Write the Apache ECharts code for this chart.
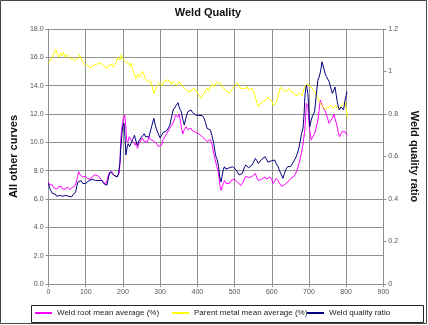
<!DOCTYPE html>
<html>
<head>
<meta charset="utf-8">
<script src="https://cdn.jsdelivr.net/npm/echarts@6/dist/echarts.min.js"></script>
<style>
html,body{margin:0;padding:0;background:#fff;}
#c{width:428px;height:325px;}
</style>
</head>
<body>
<div id="c"></div>
<script>
const title = 'Weld Quality';
const seriesNames = ['Weld root mean average (%)', 'Parent metal mean average (%)', 'Weld quality ratio'];
const xTicks = { min: 0, max: 900, interval: 100 };
const leftTicks = { min: 0, max: 18, interval: 2 };
const rightTicks = { min: 0, max: 1.2, interval: 0.2 };

// Weld root mean average (%) : [position, value]
const rootData = [[0,7.2],[3,7.0],[6,6.9],[10,7.0],[14,6.8],[18,6.9],[22,6.7],[26,6.85],[30,6.75],[34,6.9],[38,6.7],[42,6.8],[46,6.7],[50,6.85],[54,6.75],[58,6.65],[62,6.8],[66,6.7],[70,6.9],[75,7.2],[78,7.6],[81,7.93],[85,7.7],[88,7.8],[92,7.56],[96,7.5],[100,7.6],[105,7.45],[109,7.5],[113,7.4],[118,7.6],[122,7.56],[126,7.7],[131,7.56],[135,7.6],[140,7.4],[144,7.3],[148,7.2],[153,7.0],[157,7.3],[162,7.8],[166,7.9],[170,7.93],[175,7.7],[179,7.8],[183,7.56],[187,7.7],[190,7.8],[192,8.5],[194,10.16],[197,11.0],[201,11.7],[205,11.93],[208,11.0],[210,10.16],[213,10.0],[217,10.4],[221,10.2],[225,10.3],[229,10.0],[233,9.8],[236,10.0],[239,9.57],[243,9.9],[247,10.0],[252,10.3],[256,10.1],[260,10.2],[265,10.0],[270,10.4],[274,10.2],[278,10.3],[282,10.1],[287,10.16],[291,9.9],[295,9.7],[300,9.57],[304,9.8],[308,10.2],[313,10.4],[317,10.5],[322,10.8],[326,11.0],[330,11.1],[334,11.3],[338,11.6],[341,11.9],[344,11.93],[348,11.8],[351,12.0],[355,11.4],[358,10.9],[361,10.6],[365,10.9],[370,11.1],[374,10.9],[378,11.0],[383,11.0],[387,10.8],[391,10.9],[396,10.7],[400,10.75],[404,10.6],[408,10.5],[413,10.4],[417,10.3],[421,10.2],[426,10.05],[430,10.1],[435,10.2],[440,9.8],[444,9.2],[448,8.8],[452,8.3],[455,8.05],[458,7.57],[460,7.1],[462,6.8],[464,6.6],[467,6.9],[470,7.1],[473,7.3],[477,7.1],[482,7.2],[486,7.1],[490,7.3],[495,7.2],[499,7.4],[504,7.3],[508,7.2],[512,7.1],[517,6.95],[521,7.1],[526,7.4],[530,7.6],[534,7.7],[538,7.5],[543,7.45],[547,7.6],[551,7.5],[556,7.8],[560,7.5],[564,7.3],[569,7.2],[573,7.4],[578,7.3],[582,7.56],[586,7.4],[590,7.5],[595,7.56],[599,7.4],[604,7.1],[608,7.3],[612,7.45],[617,7.3],[621,7.1],[626,6.9],[630,6.87],[634,7.0],[638,7.1],[643,7.2],[647,7.3],[651,7.45],[656,7.5],[660,7.6],[664,7.7],[668,8.0],[673,8.5],[677,8.9],[680,9.3],[683,9.7],[686,10.3],[689,10.87],[691,11.8],[693,12.75],[697,12.6],[700,11.5],[702,10.87],[706,10.16],[710,10.4],[715,10.6],[719,11.0],[724,11.57],[727,12.2],[730,12.98],[733,12.8],[736,12.6],[741,12.3],[745,12.15],[750,11.7],[754,11.34],[758,11.5],[763,11.7],[767,12.0],[770,11.7],[773,11.4],[776,11.1],[779,10.7],[782,10.4],[786,10.6],[789,10.75],[793,10.7],[797,10.75],[800,10.6],[803,10.5]];

// Parent metal mean average (%) : [position, value]
const parentData = [[0,15.6],[5,15.8],[10,16.0],[15,16.3],[19,16.55],[24,16.2],[28,16.0],[32,16.3],[36,16.1],[40,16.35],[45,16.0],[50,16.2],[55,16.05],[60,15.9],[65,16.0],[70,15.8],[75,15.7],[80,15.95],[83,16.2],[88,15.9],[92,15.7],[96,15.5],[100,15.6],[105,15.4],[110,15.3],[113,15.25],[118,15.4],[123,15.3],[128,15.5],[133,15.4],[138,15.6],[143,15.7],[148,15.4],[152,15.3],[156,15.2],[160,15.4],[165,15.3],[170,15.5],[174,15.3],[178,15.4],[183,15.7],[187,16.0],[192,15.8],[196,16.2],[200,15.9],[205,15.7],[209,15.8],[214,15.6],[218,15.4],[222,15.6],[226,15.1],[230,14.9],[235,14.5],[240,14.8],[245,14.6],[248,14.8],[252,15.0],[256,14.8],[260,14.5],[265,14.3],[270,14.2],[275,14.3],[279,13.9],[283,13.45],[287,13.7],[291,14.0],[295,14.1],[300,14.2],[305,14.0],[310,14.3],[315,14.2],[320,14.4],[326,14.3],[330,14.1],[335,14.3],[340,14.2],[345,14.0],[350,14.3],[355,14.2],[360,14.0],[365,13.8],[370,13.9],[375,13.6],[380,13.7],[383,13.6],[388,13.8],[392,13.9],[396,13.7],[400,13.6],[405,13.3],[409,13.1],[414,13.3],[418,13.5],[422,13.6],[426,13.8],[430,13.6],[435,13.9],[440,14.1],[445,13.9],[450,14.2],[455,14.1],[460,14.2],[465,14.0],[470,13.8],[475,13.9],[480,13.6],[486,13.45],[490,13.6],[495,13.8],[500,14.0],[504,14.1],[508,14.2],[512,14.0],[517,13.8],[521,13.7],[526,13.8],[530,13.7],[534,13.9],[538,13.7],[543,13.6],[547,13.8],[551,13.6],[556,13.2],[560,12.8],[564,12.5],[568,12.7],[573,12.6],[578,12.9],[582,12.85],[586,13.0],[590,13.2],[595,13.1],[600,12.9],[604,12.6],[608,12.5],[612,12.8],[617,13.3],[621,13.7],[625,13.9],[630,13.7],[634,13.8],[638,13.6],[643,13.7],[648,13.8],[652,13.6],[656,13.7],[660,13.5],[665,13.3],[670,13.4],[676,13.45],[682,13.3],[686,13.7],[689,14.0],[694,13.9],[698,14.1],[702,14.16],[706,13.9],[710,13.8],[715,13.6],[720,13.3],[724,13.1],[728,12.9],[732,12.7],[736,12.6],[741,12.4],[745,12.5],[750,12.4],[754,12.45],[758,12.6],[763,12.4],[767,12.5],[772,12.6],[776,12.4],[780,12.3],[785,12.5],[789,12.6],[793,12.7],[797,12.85],[800,12.4],[803,11.7]];

// Weld quality ratio : [position, ratio]
const ratioData = [[0,0.473],[3,0.453],[6,0.44],[10,0.427],[14,0.419],[18,0.423],[22,0.413],[26,0.42],[30,0.417],[34,0.423],[38,0.413],[42,0.42],[46,0.417],[50,0.423],[54,0.413],[58,0.42],[62,0.41],[66,0.42],[70,0.423],[73,0.433],[76,0.46],[79,0.48],[83,0.473],[87,0.487],[92,0.473],[96,0.48],[100,0.473],[105,0.48],[109,0.487],[113,0.48],[118,0.493],[122,0.497],[126,0.487],[131,0.493],[135,0.487],[140,0.48],[144,0.487],[148,0.473],[153,0.467],[157,0.465],[162,0.507],[166,0.529],[170,0.52],[175,0.512],[179,0.507],[185,0.504],[188,0.52],[190,0.529],[192,0.573],[194,0.631],[197,0.7],[199,0.74],[203,0.756],[206,0.68],[208,0.607],[211,0.64],[214,0.66],[218,0.647],[222,0.662],[226,0.68],[231,0.7],[235,0.673],[239,0.653],[243,0.673],[248,0.687],[252,0.693],[257,0.707],[261,0.693],[265,0.7],[270,0.693],[274,0.72],[278,0.747],[281,0.767],[283,0.78],[287,0.747],[291,0.725],[295,0.707],[300,0.687],[304,0.7],[308,0.713],[313,0.707],[317,0.72],[322,0.733],[326,0.747],[330,0.78],[335,0.819],[339,0.827],[343,0.84],[348,0.853],[351,0.833],[354,0.82],[357,0.81],[361,0.773],[365,0.748],[369,0.78],[374,0.81],[378,0.813],[383,0.819],[387,0.807],[391,0.813],[396,0.795],[400,0.8],[404,0.793],[409,0.787],[413,0.793],[418,0.78],[422,0.76],[426,0.733],[430,0.74],[435,0.725],[439,0.7],[444,0.662],[447,0.627],[450,0.599],[453,0.587],[457,0.553],[460,0.504],[464,0.48],[467,0.513],[470,0.54],[473,0.552],[477,0.54],[482,0.537],[486,0.547],[490,0.553],[495,0.552],[499,0.547],[504,0.537],[508,0.527],[512,0.513],[517,0.504],[521,0.52],[526,0.547],[530,0.56],[534,0.553],[538,0.547],[543,0.543],[547,0.56],[551,0.573],[556,0.591],[560,0.58],[564,0.567],[569,0.573],[573,0.587],[578,0.58],[582,0.599],[586,0.587],[590,0.573],[595,0.567],[599,0.58],[604,0.573],[608,0.583],[612,0.567],[617,0.552],[621,0.533],[626,0.513],[630,0.497],[634,0.52],[638,0.54],[643,0.552],[647,0.547],[651,0.553],[656,0.56],[660,0.58],[664,0.593],[669,0.615],[673,0.64],[677,0.677],[680,0.707],[684,0.733],[687,0.8],[689,0.88],[691,0.913],[693,0.936],[695,0.92],[697,0.897],[700,0.813],[702,0.74],[706,0.771],[710,0.793],[715,0.81],[719,0.88],[724,0.96],[727,0.973],[730,0.991],[733,1.02],[735,1.046],[738,1.027],[741,1.007],[744,0.987],[747,0.976],[750,0.967],[754,0.953],[758,0.927],[763,0.897],[767,0.913],[770,0.927],[773,0.893],[776,0.858],[779,0.833],[782,0.819],[786,0.833],[789,0.842],[793,0.819],[797,0.865],[800,0.887],[802,0.905]];

const FONT = "'Liberation Sans', Arial, sans-serif";
const chart = echarts.init(document.getElementById('c'), null, { renderer: 'canvas' });

const gridLine = { show: true, lineStyle: { color: '#909090', width: 1 } };
const axisLine = { show: true, lineStyle: { color: '#909090', width: 1 } };
const tickStyle = { show: true, inside: false, length: 3, lineStyle: { color: '#909090' } };
const labelStyle = { color: '#555', fontSize: 7, fontFamily: FONT };
const legendBase = { orient: 'horizontal', top: 309, padding: 0, itemWidth: 17, itemHeight: 2, itemGap: 10, icon: 'rect',
  textStyle: { fontSize: 8, color: '#222', fontFamily: FONT, padding: [0, 0, 0, 0] } };

chart.setOption({
  animation: false,
  backgroundColor: '#fff',
  title: { text: title, left: 208, top: 7, textAlign: 'center', padding: 0,
    textStyle: { fontSize: 11, fontWeight: 'bold', color: '#111', fontFamily: FONT } },
  graphic: [
    { type: 'rect', silent: true, z: 100, shape: { x: 0.5, y: 0.5, width: 426, height: 323 },
      style: { fill: 'none', stroke: '#444', lineWidth: 1 } },
    { type: 'rect', silent: true, z: 100, shape: { x: 31.5, y: 305.5, width: 392, height: 17 },
      style: { fill: 'none', stroke: '#222', lineWidth: 1 } }
  ],
  legend: [
    Object.assign({}, legendBase, { left: 35, data: [seriesNames[0]] }),
    Object.assign({}, legendBase, { left: 172, data: [seriesNames[1]] }),
    Object.assign({}, legendBase, { left: 307, data: [seriesNames[2]] })
  ],
  grid: { left: 41, right: 42, top: 29, bottom: 41, containLabel: false },
  xAxis: {
    type: 'value', min: xTicks.min, max: xTicks.max, interval: xTicks.interval,
    axisLine: axisLine, axisTick: tickStyle, splitLine: gridLine,
    axisLabel: Object.assign({ margin: 5 }, labelStyle)
  },
  yAxis: [
    {
      type: 'value', position: 'left', min: leftTicks.min, max: leftTicks.max, interval: leftTicks.interval,
      name: 'All other curves', nameLocation: 'middle', nameGap: 17, nameRotate: 90,
      nameTextStyle: { fontSize: 11, fontWeight: 'bold', color: '#111', fontFamily: FONT },
      axisLine: axisLine, axisTick: tickStyle, splitLine: gridLine,
      axisLabel: Object.assign({ margin: 5, formatter: v => v.toFixed(1) }, labelStyle)
    },
    {
      type: 'value', position: 'right', min: rightTicks.min, max: rightTicks.max, interval: rightTicks.interval,
      name: 'Weld quality ratio', nameLocation: 'middle', nameGap: 18, nameRotate: -90,
      nameTextStyle: { fontSize: 11, fontWeight: 'bold', color: '#111', fontFamily: FONT },
      axisLine: axisLine, axisTick: tickStyle, splitLine: { show: false },
      axisLabel: Object.assign({ margin: 5, formatter: v => String(+v.toFixed(1)) }, labelStyle)
    }
  ],
  series: [
    { name: seriesNames[0], type: 'line', yAxisIndex: 0, data: rootData, showSymbol: false, symbol: 'none',
      color: '#ff00ff', lineStyle: { width: 1, color: '#ff00ff' } },
    { name: seriesNames[1], type: 'line', yAxisIndex: 0, data: parentData, showSymbol: false, symbol: 'none',
      color: '#ffff00', lineStyle: { width: 1, color: '#ffff00' } },
    { name: seriesNames[2], type: 'line', yAxisIndex: 1, data: ratioData, showSymbol: false, symbol: 'none',
      color: '#000080', lineStyle: { width: 1, color: '#000080' } }
  ]
});
</script>
</body>
</html>
